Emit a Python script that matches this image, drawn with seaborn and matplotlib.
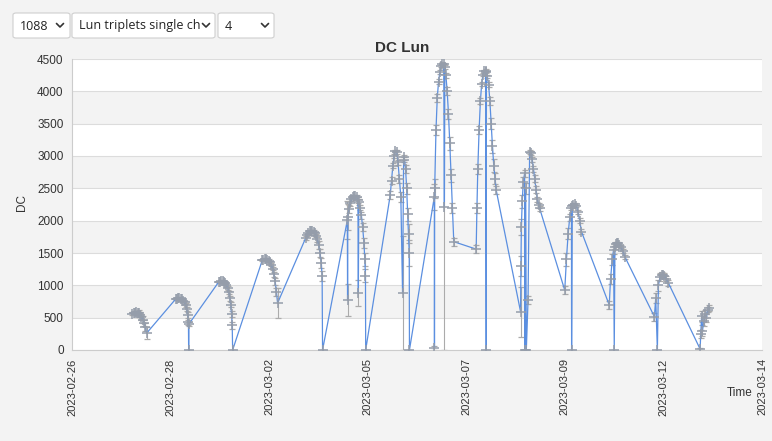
import numpy as np
import pandas as pd
import matplotlib
matplotlib.use("Agg")
import matplotlib.pyplot as plt
from matplotlib.patches import FancyBboxPatch
from matplotlib.lines import Line2D
from matplotlib.ticker import MultipleLocator
import seaborn as sns

# time in days since 2023-02-26 00:00, DC values, one array set per night
n1_t = [1.40, 1.43, 1.46, 1.49, 1.52, 1.55, 1.58, 1.61, 1.64, 1.67, 1.70, 1.73]
n1_dc = [560, 570, 578, 580, 576, 565, 545, 510, 470, 420, 350, 260]
n1_err = [20, 20, 25, 20, 30, 60, 40, 50, 60, 50, 60, 90]

n2_t = [2.40, 2.43, 2.46, 2.49, 2.52, 2.55, 2.58, 2.61, 2.64, 2.66, 2.68, 2.70, 2.705, 2.71]
n2_dc = [785, 795, 800, 800, 795, 785, 765, 735, 690, 630, 540, 430, 0, 400]
n2_err = [15, 15, 15, 15, 15, 20, 20, 25, 30, 30, 40, 40, 0, 30]

n3_t = [3.40, 3.43, 3.46, 3.49, 3.52, 3.55, 3.58, 3.61, 3.64, 3.66, 3.68, 3.70, 3.715, 3.725]
n3_dc = [1050, 1058, 1062, 1060, 1052, 1035, 1005, 960, 890, 800, 700, 560, 380, 0]
n3_err = [15, 15, 15, 15, 20, 20, 25, 30, 30, 40, 40, 50, 50, 0]

n4_t = [4.41, 4.44, 4.47, 4.50, 4.53, 4.56, 4.59, 4.62, 4.65, 4.68, 4.71, 4.74, 4.767]
n4_dc = [1385, 1395, 1400, 1400, 1395, 1380, 1360, 1320, 1260, 1170, 1060, 900, 725]
n4_err = [15, 15, 15, 15, 15, 20, 20, 25, 30, 40, 50, 60, 230]

n5_t = [5.42, 5.45, 5.48, 5.51, 5.54, 5.57, 5.60, 5.63, 5.66, 5.69, 5.72, 5.75, 5.78, 5.80, 5.81]
n5_dc = [1730, 1780, 1815, 1835, 1842, 1840, 1830, 1805, 1770, 1710, 1620, 1500, 1350, 1140, 0]
n5_err = [30, 20, 20, 20, 20, 20, 20, 25, 30, 40, 60, 60, 80, 80, 0]

n6_t = [6.385, 6.39, 6.395, 6.42, 6.45, 6.48, 6.51, 6.54, 6.57, 6.60, 6.63, 6.64, 6.65,
        6.68, 6.71, 6.74, 6.77, 6.79, 6.805, 6.81]
n6_dc = [2010, 770, 2060, 2180, 2270, 2330, 2365, 2380, 2380, 2360, 2320, 880, 2290,
         2200, 2080, 1900, 1650, 1400, 1150, 0]
n6_err = [300, 250, 200, 60, 40, 30, 20, 20, 20, 30, 40, 200, 40,
          40, 50, 60, 80, 100, 100, 0]

n7_t = [7.379, 7.41, 7.44, 7.47, 7.50, 7.53, 7.56, 7.59, 7.625, 7.665, 7.69, 7.71,
        7.735, 7.76, 7.785, 7.805, 7.82, 7.825]
n7_dc = [2395, 2620, 2850, 3000, 3080, 3060, 2900, 2650, 2370, 880, 2980, 2940,
         2800, 2500, 2100, 1800, 1500, 0]
n7_err = [60, 50, 40, 30, 20, 30, 40, 60, 80, 880, 40, 40,
          60, 80, 100, 150, 200, 0]

n8_t = [8.402, 8.405, 8.41, 8.44, 8.47, 8.50, 8.53, 8.56, 8.59, 8.62, 8.635, 8.645,
        8.67, 8.70, 8.73, 8.76, 8.79, 8.82, 8.853]
n8_dc = [2370, 30, 2500, 3400, 3900, 4150, 4300, 4390, 4430, 4420, 2215, 4380,
         4250, 4000, 3650, 3200, 2700, 2200, 1675]
n8_err = [200, 30, 150, 80, 60, 40, 30, 20, 20, 20, 2215, 30,
          40, 60, 80, 100, 100, 80, 60]

n9_t = [9.372, 9.39, 9.41, 9.44, 9.47, 9.50, 9.53, 9.56, 9.59, 9.605, 9.61, 9.63,
        9.66, 9.69, 9.72, 9.75, 9.78, 9.81, 9.837]
n9_dc = [1560, 2200, 2800, 3400, 3850, 4120, 4260, 4310, 4320, 0, 4300, 4230,
         4100, 3850, 3500, 3150, 2850, 2650, 2470]
n9_err = [60, 80, 80, 60, 40, 30, 20, 20, 20, 0, 20, 30,
          40, 60, 80, 100, 100, 80, 60]

n10_t = [10.402, 10.41, 10.42, 10.44, 10.465, 10.495, 10.50, 10.52, 10.535, 10.575,
         10.612, 10.64, 10.67, 10.70, 10.73, 10.76, 10.79, 10.82, 10.844]
n10_dc = [590, 1300, 1900, 2300, 2600, 2730, 0, 2500, 0, 770,
          3065, 3040, 2950, 2800, 2650, 2480, 2330, 2240, 2190]
n10_err = [385, 150, 120, 100, 80, 60, 0, 80, 0, 60,
           30, 30, 40, 40, 50, 50, 40, 40, 40]

n11_t = [11.426, 11.465, 11.505, 11.542, 11.581, 11.585, 11.60, 11.621, 11.658,
         11.698, 11.737, 11.774, 11.814]
n11_dc = [925, 1400, 1800, 2050, 2200, 0, 2230, 2250, 2260, 2230, 2130, 2000, 1830]
n11_err = [60, 100, 80, 60, 40, 0, 30, 30, 20, 20, 30, 40, 40]

n12_t = [12.458, 12.488, 12.528, 12.558, 12.574, 12.59, 12.612, 12.64, 12.667,
         12.694, 12.721, 12.767, 12.821]
n12_dc = [695, 1100, 1400, 1550, 0, 1600, 1640, 1650, 1650, 1630, 1600, 1530, 1440]
n12_err = [60, 80, 80, 60, 0, 40, 30, 20, 20, 20, 30, 30, 30]

n13_t = [13.505, 13.535, 13.574, 13.598, 13.635, 13.674, 13.70, 13.728, 13.774, 13.83]
n13_dc = [515, 800, 0, 1000, 1130, 1160, 1165, 1150, 1100, 1035]
n13_err = [60, 80, 0, 80, 60, 40, 30, 40, 40, 40]

n14_t = [14.565, 14.58, 14.60, 14.62, 14.65, 14.68, 14.71, 14.74, 14.76]
n14_dc = [15, 250, 520, 300, 450, 560, 500, 620, 650]
n14_err = [20, 60, 80, 80, 80, 60, 60, 40, 40]

x_ticks = [0, 2.286, 4.571, 6.857, 9.143, 11.429, 13.714, 16]
x_labels = ["2023-02-26", "2023-02-28", "2023-03-02", "2023-03-05",
            "2023-03-07", "2023-03-09", "2023-03-12", "2023-03-14"]
y_ticks = [0, 500, 1000, 1500, 2000, 2500, 3000, 3500, 4000, 4500]

nights = [
    (n1_t, n1_dc, n1_err), (n2_t, n2_dc, n2_err), (n3_t, n3_dc, n3_err),
    (n4_t, n4_dc, n4_err), (n5_t, n5_dc, n5_err), (n6_t, n6_dc, n6_err),
    (n7_t, n7_dc, n7_err), (n8_t, n8_dc, n8_err), (n9_t, n9_dc, n9_err),
    (n10_t, n10_dc, n10_err), (n11_t, n11_dc, n11_err), (n12_t, n12_dc, n12_err),
    (n13_t, n13_dc, n13_err), (n14_t, n14_dc, n14_err),
]
df = pd.concat(
    [pd.DataFrame({"t": t, "dc": dc, "err": e}) for t, dc, e in nights],
    ignore_index=True,
)

sns.set_style("white")
plt.rcParams["font.family"] = ["Liberation Sans", "DejaVu Sans"]

W, H = 772, 441
fig = plt.figure(figsize=(W / 100, H / 100), dpi=100, facecolor="#f3f3f3")
ax = fig.add_axes([72 / W, 1 - 350 / H, 690 / W, 291 / H])

# striped background bands
for i, lo in enumerate(y_ticks[:-1]):
    ax.axhspan(lo, lo + 500, color="white" if i % 2 == 0 else "#f3f3f3", zorder=0, lw=0)
for y in y_ticks:
    ax.axhline(y, color="#dcdcdc", lw=0.8, zorder=1)

ax.errorbar(df["t"], df["dc"], yerr=df["err"], fmt="none", ecolor="#ababab",
            elinewidth=0.8, capsize=2.5, capthick=0.9, zorder=2)
sns.lineplot(data=df, x="t", y="dc", sort=False, estimator=None, ax=ax,
             color="#5b8fe0", lw=0.9, marker="+", markersize=6.5,
             markeredgecolor="#959daa", markeredgewidth=1.1, zorder=3)

ax.set_xlim(0, 16)
ax.set_ylim(0, 4500)
ax.set_xticks(x_ticks)
ax.set_xticklabels(x_labels, rotation=90, fontsize=8, color="#333333")
ax.set_yticks(y_ticks)
ax.set_yticklabels([str(v) for v in y_ticks], fontsize=8.5, color="#333333")
ax.yaxis.set_minor_locator(MultipleLocator(100))
ax.tick_params(axis="both", which="major", length=4, color="#c8c8c8", pad=2)
ax.tick_params(axis="y", which="minor", length=2, color="#d0d0d0")
ax.set_xlabel("")
ax.set_ylabel("")
for side in ["top", "right"]:
    ax.spines[side].set_visible(False)
for side in ["left", "bottom"]:
    ax.spines[side].set_color("#cccccc")
    ax.spines[side].set_linewidth(0.8)

fig.text(402 / W, 1 - 48 / H, "DC Lun", ha="center", va="center",
         fontsize=11, weight="bold", color="#333333")
fig.text(22 / W, 1 - 203 / H, "DC", ha="center", va="center", rotation=90,
         fontsize=8.5, color="#333333")
fig.text(740 / W, 1 - 393 / H, "Time", ha="center", va="center",
         fontsize=8.5, color="#333333")

# dropdown selectors
boxes = [(13, 70, "1088", 60), (72, 215, "Lun triplets single ch", 206), (218, 274, "4", 265)]
for x0, x1, label, cx in boxes:
    fig.patches.append(FancyBboxPatch(
        (x0 / W, 1 - 38 / H), (x1 - x0) / W, 25 / H,
        boxstyle="round,pad=0,rounding_size=0.004", transform=fig.transFigure,
        facecolor="white", edgecolor="#cfcfcf", lw=0.8))
    fig.text((x0 + 7) / W, 1 - 26 / H, label, ha="left", va="center",
             fontsize=9, color="#222222", family=["Open Sans", "DejaVu Sans"])
    fig.lines.append(Line2D([(cx - 3.5) / W, cx / W, (cx + 3.5) / W],
                            [1 - 23.5 / H, 1 - 27 / H, 1 - 23.5 / H],
                            transform=fig.transFigure, color="#333333", lw=1.2))

fig.savefig("out.png", dpi=100, facecolor=fig.get_facecolor())
